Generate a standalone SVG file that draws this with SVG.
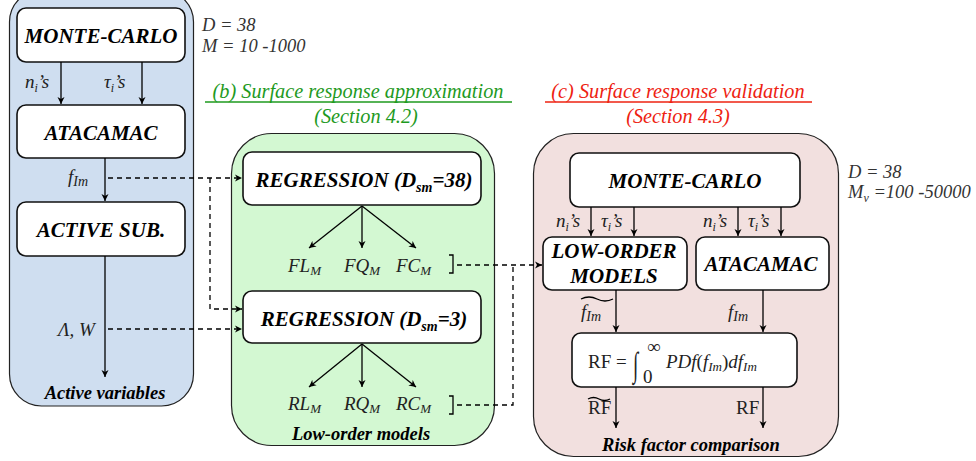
<svg xmlns="http://www.w3.org/2000/svg" width="976" height="461" viewBox="0 0 976 461">
<defs>
<marker id="ah" markerWidth="8" markerHeight="8" refX="7" refY="4" orient="auto" markerUnits="userSpaceOnUse">
<path d="M0,0.5 L7,4 L0,7.5 L2,4 Z" fill="#000"/>
</marker>
<style>
text{font-family:'Liberation Serif','Times New Roman',Times,'DejaVu Serif',serif}
.panel{stroke:#222;stroke-width:1.2}
.box{fill:#fff;stroke:#111;stroke-width:1.6}
.bt{font-weight:bold;font-style:italic;font-size:21px;fill:#000;text-anchor:middle}
.cap{font-weight:bold;font-style:italic;font-size:18.5px;fill:#000;text-anchor:middle}
.m{font-style:italic;font-size:19px;fill:#222}
.mr{font-size:19px;fill:#222}
.par{font-style:italic;font-size:18.5px;fill:#333}
.ln{stroke:#000;stroke-width:1.3;fill:none}
.dl{stroke:#000;stroke-width:1.3;fill:none;stroke-dasharray:5,4}
.tg{font-style:italic;font-size:20.3px;fill:#1e9a1e;text-anchor:middle}
.tr{font-style:italic;font-size:20.3px;fill:#ee2211;text-anchor:middle}
</style>
</defs>

<g id="panel-a">
<rect class="panel" x="9.5" y="-10" width="184" height="416" rx="32" fill="#cfdef0"/>
<text class="cap" x="105" y="399">Active variables</text>
</g>
<g id="panel-b">
<rect class="panel" x="231.5" y="133.5" width="263" height="312" rx="40" fill="#d3f8d2"/>
<text class="cap" x="361" y="440">Low-order models</text>
<text class="tg" x="358" y="98">(b) Surface response approximation</text>
<line x1="205" y1="102" x2="512" y2="102" stroke="#1e9a1e" stroke-width="1.5"/>
<text class="tg" x="366" y="123">(Section 4.2)</text>
</g>
<g id="panel-c">
<rect class="panel" x="533.5" y="133.5" width="305" height="323" rx="40" fill="#f2e0df"/>
<text class="cap" x="691" y="451">Risk factor comparison</text>
<text class="tr" x="678" y="98">(c) Surface response validation</text>
<line x1="545" y1="102" x2="812" y2="102" stroke="#ee2211" stroke-width="1.5"/>
<text class="tr" x="678" y="123">(Section 4.3)</text>
</g>

<g id="params-a">
<text class="par" x="202" y="31">D = 38</text>
<text class="par" x="202" y="52">M = 10 -1000</text>
</g>
<g id="params-c">
<text class="par" x="848" y="178">D = 38</text>
<text class="par" x="848" y="198">M<tspan font-size="12" dy="4">v</tspan><tspan dy="-4"> =100 -50000</tspan></text>
</g>

<g id="mc-a">
<rect class="box" x="17" y="8" width="168" height="54" rx="9"/>
<text class="bt" x="101" y="43">MONTE-CARLO</text>
</g>
<g id="atacamac-a">
<rect class="box" x="17" y="105" width="168" height="53" rx="9"/>
<text class="bt" x="101" y="140">ATACAMAC</text>
</g>
<g id="activesub">
<rect class="box" x="17" y="202" width="168" height="54" rx="9"/>
<text class="bt" x="101" y="237">ACTIVE SUB.</text>
</g>
<g id="reg38">
<rect class="box" x="243" y="152" width="238" height="53" rx="9"/>
<text class="bt" x="364" y="187">REGRESSION (D<tspan font-size="14" dy="5">sm</tspan><tspan dy="-5">=38)</tspan></text>
</g>
<g id="reg3">
<rect class="box" x="243" y="291" width="238" height="52" rx="9"/>
<text class="bt" x="364" y="326">REGRESSION (D<tspan font-size="14" dy="5">sm</tspan><tspan dy="-5">=3)</tspan></text>
</g>
<g id="mc-c">
<rect class="box" x="570" y="153" width="230" height="54" rx="9"/>
<text class="bt" x="685" y="188">MONTE-CARLO</text>
</g>
<g id="loworder">
<rect class="box" x="543" y="237" width="144" height="53" rx="9"/>
<text class="bt" x="614" y="258">LOW-ORDER</text>
<text class="bt" x="614" y="283">MODELS</text>
</g>
<g id="atacamac-c">
<rect class="box" x="696" y="237" width="133" height="53" rx="9"/>
<text class="bt" x="761" y="271">ATACAMAC</text>
</g>
<g id="rf">
<rect class="box" x="572" y="333" width="225" height="54" rx="9"/>
<text class="mr" x="588" y="368">RF =</text>
<text class="mr" font-size="26" transform="translate(633,376) scale(1,1.8)">∫</text>
<text class="mr" x="647" y="353" font-size="14">∞</text>
<text class="mr" x="643" y="383" font-size="12">0</text>
<text class="m" x="666" y="368">PDf<tspan font-style="normal">(</tspan>f<tspan font-size="13" dy="3">Im</tspan><tspan font-style="normal" dy="-3">)</tspan>df<tspan font-size="13" dy="3">Im</tspan></text>
</g>

<g id="models-f">
<text class="m" x="288" y="272">FL<tspan font-size="13" dy="3">M</tspan></text>
<text class="m" x="344" y="272">FQ<tspan font-size="13" dy="3">M</tspan></text>
<text class="m" x="396" y="272">FC<tspan font-size="13" dy="3">M</tspan></text>
<path class="ln" d="M449,255 h4 v18 h-4"/>
</g>
<g id="models-r">
<text class="m" x="288" y="410">RL<tspan font-size="13" dy="3">M</tspan></text>
<text class="m" x="344" y="410">RQ<tspan font-size="13" dy="3">M</tspan></text>
<text class="m" x="396" y="410">RC<tspan font-size="13" dy="3">M</tspan></text>
<path class="ln" d="M449,396 h4 v18 h-4"/>
</g>

<g id="connectors">
<line class="ln" x1="61" y1="62" x2="61" y2="104" marker-end="url(#ah)"/>
<line class="ln" x1="142" y1="62" x2="142" y2="104" marker-end="url(#ah)"/>
<line class="ln" x1="105" y1="158" x2="105" y2="201" marker-end="url(#ah)"/>
<line class="ln" x1="105" y1="256" x2="105" y2="377" marker-end="url(#ah)"/>
<path class="dl" d="M108,178 H242" marker-end="url(#ah)"/>
<path class="dl" d="M210,178 V309 H242" marker-end="url(#ah)"/>
<path class="dl" d="M108,329 H242" marker-end="url(#ah)"/>
<line class="ln" x1="362" y1="206" x2="309" y2="248" marker-end="url(#ah)"/>
<line class="ln" x1="362" y1="206" x2="362" y2="248" marker-end="url(#ah)"/>
<line class="ln" x1="362" y1="206" x2="416" y2="248" marker-end="url(#ah)"/>
<line class="ln" x1="362" y1="344" x2="309" y2="387" marker-end="url(#ah)"/>
<line class="ln" x1="362" y1="344" x2="362" y2="387" marker-end="url(#ah)"/>
<line class="ln" x1="362" y1="344" x2="416" y2="387" marker-end="url(#ah)"/>
<path class="dl" d="M457,265 H542" marker-end="url(#ah)"/>
<path class="dl" d="M457,405 H513 V265"/>
<line class="ln" x1="591" y1="207" x2="591" y2="236" marker-end="url(#ah)"/>
<line class="ln" x1="634" y1="207" x2="634" y2="236" marker-end="url(#ah)"/>
<line class="ln" x1="738" y1="207" x2="738" y2="236" marker-end="url(#ah)"/>
<line class="ln" x1="781" y1="207" x2="781" y2="236" marker-end="url(#ah)"/>
<line class="ln" x1="616" y1="290" x2="616" y2="332" marker-end="url(#ah)"/>
<line class="ln" x1="763" y1="290" x2="763" y2="332" marker-end="url(#ah)"/>
<line class="ln" x1="616" y1="387" x2="616" y2="428" marker-end="url(#ah)"/>
<line class="ln" x1="763" y1="387" x2="763" y2="428" marker-end="url(#ah)"/>
</g>

<g id="labels">
<text class="m" x="25" y="88">n<tspan font-size="12" dy="4">i</tspan><tspan dy="-4">’s</tspan></text>
<text class="m" x="104" y="88">τ<tspan font-size="12" dy="4">i</tspan><tspan dy="-4">’s</tspan></text>
<text class="m" x="68" y="183">f<tspan font-size="14" dy="3">Im</tspan></text>
<text class="m" x="58" y="336">Λ, W</text>
<text class="m" x="556" y="227">n<tspan font-size="12" dy="4">i</tspan><tspan dy="-4">’s</tspan></text>
<text class="m" x="601" y="227">τ<tspan font-size="12" dy="4">i</tspan><tspan dy="-4">’s</tspan></text>
<text class="m" x="703" y="227">n<tspan font-size="12" dy="4">i</tspan><tspan dy="-4">’s</tspan></text>
<text class="m" x="748" y="227">τ<tspan font-size="12" dy="4">i</tspan><tspan dy="-4">’s</tspan></text>
<text class="m" x="581" y="318">f<tspan font-size="14" dy="3">Im</tspan></text>
<path class="ln" d="M581,299 q8,-4 16,0 t16,0" stroke-width="1"/>
<text class="m" x="728" y="318">f<tspan font-size="14" dy="3">Im</tspan></text>
<text class="mr" x="588" y="414">RF</text>
<path class="ln" d="M588,399 q5.5,-3 11,0 t11,0" stroke-width="1"/>
<text class="mr" x="736" y="414">RF</text>
</g>
</svg>
